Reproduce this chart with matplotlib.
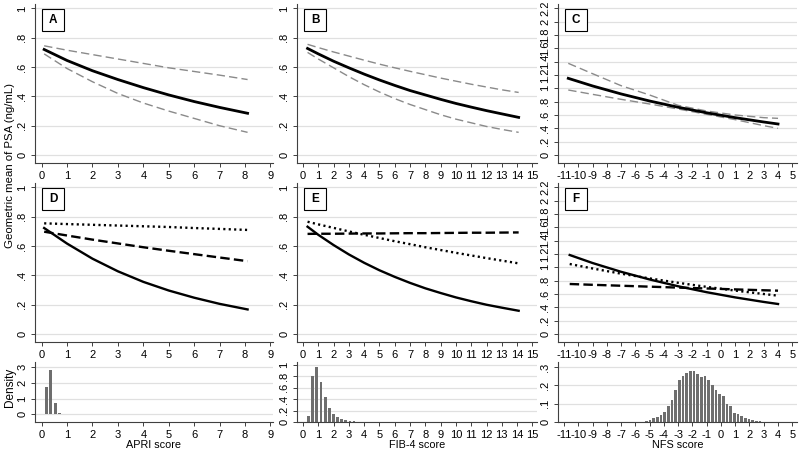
import matplotlib.pyplot as plt
from matplotlib.patches import Rectangle

plt.rcParams['font.family'] = ['Liberation Sans', 'DejaVu Sans']

# ---- APRI score (panels A, D) ----
apri_x = [0.1, 1, 2, 3, 4, 5, 6, 7, 8.1]
apri_fit = [0.72, 0.645, 0.575, 0.515, 0.46, 0.41, 0.365, 0.325, 0.285]
apri_hi = [0.745, 0.715, 0.685, 0.655, 0.625, 0.595, 0.57, 0.545, 0.515]
apri_lo = [0.69, 0.59, 0.50, 0.42, 0.355, 0.30, 0.25, 0.20, 0.155]
apri_solid = [0.723, 0.617, 0.514, 0.428, 0.356, 0.297, 0.248, 0.206, 0.168]
apri_dash = [0.698, 0.672, 0.644, 0.618, 0.592, 0.568, 0.545, 0.522, 0.497]
apri_dot = [0.755, 0.75, 0.745, 0.74, 0.735, 0.73, 0.723, 0.717, 0.71]
apri_bins = [0.18, 0.36, 0.54, 0.72, 0.90]
apri_dens = [1.74, 2.78, 0.72, 0.11, 0.04]

# ---- FIB-4 score (panels B, E) ----
fib_x = [0.3, 1, 2, 3, 4, 5, 6, 7, 8, 9, 10, 11, 12, 13, 14.1]
fib_fit = [0.727, 0.69, 0.64, 0.595, 0.552, 0.512, 0.475, 0.44, 0.41, 0.38, 0.352, 0.327, 0.303, 0.281, 0.257]
fib_hi = [0.755, 0.733, 0.703, 0.675, 0.647, 0.62, 0.595, 0.571, 0.548, 0.525, 0.504, 0.483, 0.464, 0.445, 0.427]
fib_lo = [0.70, 0.655, 0.595, 0.535, 0.48, 0.43, 0.385, 0.345, 0.31, 0.275, 0.245, 0.22, 0.195, 0.175, 0.155]
fib_solid = [0.732, 0.677, 0.607, 0.543, 0.486, 0.435, 0.39, 0.349, 0.312, 0.28, 0.25, 0.224, 0.20, 0.18, 0.159]
fib_dash = [0.683, 0.684, 0.684, 0.685, 0.686, 0.686, 0.687, 0.688, 0.688, 0.689, 0.69, 0.691, 0.691, 0.692, 0.693]
fib_dot = [0.766, 0.748, 0.724, 0.70, 0.677, 0.655, 0.633, 0.613, 0.592, 0.573, 0.554, 0.536, 0.518, 0.501, 0.482]
fib_bins = [0.37, 0.64, 0.91, 1.18, 1.45, 1.72, 1.99, 2.26, 2.53, 2.80, 3.07, 3.34, 3.61, 3.88, 4.15, 4.42, 4.69, 4.96]
fib_dens = [0.10, 0.81, 0.96, 0.70, 0.445, 0.24, 0.145, 0.09, 0.05, 0.03, 0.02, 0.012, 0.008, 0.006, 0.005, 0.004, 0.003, 0.002]

# ---- NFS score (panels C, F) ----
nfs_x = [-10.7, -9, -7, -5, -3, -1, 1, 3, 4]
nfs_fit = [1.15, 1.036, 0.916, 0.81, 0.716, 0.633, 0.56, 0.495, 0.465]
nfs_hi = [1.375, 1.22, 1.04, 0.90, 0.745, 0.66, 0.60, 0.56, 0.55]
nfs_lo = [0.975, 0.91, 0.835, 0.765, 0.69, 0.61, 0.53, 0.44, 0.40]
nfs_x2 = [-10.6, -9, -7, -5, -3, -1, 1, 3, 4]
nfs_solid = [1.185, 1.065, 0.933, 0.818, 0.716, 0.627, 0.549, 0.481, 0.45]
nfs_dash = [0.75, 0.738, 0.724, 0.71, 0.696, 0.683, 0.669, 0.656, 0.65]
nfs_dot = [1.05, 0.983, 0.905, 0.834, 0.768, 0.707, 0.651, 0.60, 0.575]
nfs_bins = [-5.23, -4.97, -4.72, -4.46, -4.20, -3.95, -3.69, -3.43, -3.17, -2.92, -2.66,
            -2.40, -2.15, -1.89, -1.63, -1.38, -1.12, -0.86, -0.60, -0.35, -0.09, 0.17,
            0.42, 0.68, 0.94, 1.20, 1.45, 1.71, 1.97, 2.22, 2.48, 2.74, 2.99]
nfs_dens = [0.008, 0.01, 0.02, 0.03, 0.04, 0.053, 0.085, 0.12, 0.175, 0.23, 0.253,
            0.27, 0.278, 0.278, 0.265, 0.247, 0.25, 0.23, 0.20, 0.175, 0.155, 0.14,
            0.10, 0.085, 0.047, 0.042, 0.033, 0.024, 0.016, 0.01, 0.007, 0.004, 0.002]

W, H = 800, 449
fig = plt.figure(figsize=(W / 100, H / 100), dpi=100)


def panel(left, top, right, bottom):
    return fig.add_axes([left / W, 1 - bottom / H, (right - left) / W, (bottom - top) / H])


def stata(v):
    s = '%g' % round(v, 2)
    if s.startswith('0.'):
        s = s[1:]
    return s


def style(ax, xticks, yticks, xlim, ylim):
    ax.set_xlim(*xlim)
    ax.set_ylim(*ylim)
    ax.set_xticks(xticks)
    ax.set_xticklabels([stata(v) for v in xticks])
    ax.set_yticks(yticks)
    ax.set_yticklabels([stata(v) for v in yticks])
    for s in ['top', 'right']:
        ax.spines[s].set_visible(False)
    for s in ['left', 'bottom']:
        ax.spines[s].set_color('#404040')
        ax.spines[s].set_linewidth(0.8)
    ax.tick_params(length=3, width=0.7, color='#404040', labelsize=8, pad=2.5)
    ax.tick_params(axis='y', labelrotation=90)
    for lab in ax.get_yticklabels():
        lab.set_va('center')
    ax.yaxis.grid(True, color='#e0e0e0', lw=0.9)
    ax.set_axisbelow(True)


def letter(ax, txt, wpx, hpx):
    x0, y0, bw, bh = 7 / wpx, 1 - 27 / hpx, 22 / wpx, 22 / hpx
    ax.add_patch(Rectangle((x0, y0), bw, bh, transform=ax.transAxes, fc='white',
                           ec='black', lw=0.8, zorder=5))
    ax.text(x0 + bw / 2, y0 + bh / 2, txt, transform=ax.transAxes, ha='center',
            va='center', fontsize=8.5, fontweight='bold', zorder=6)


cols = [(35, 273), (297, 537), (558, 797)]
rows = [(4, 163), (183, 342), (362, 422)]

xt_apri = list(range(0, 10))
xt_fib = list(range(0, 16))
xt_nfs = list(range(-11, 6))
yt_main = [0, 0.2, 0.4, 0.6, 0.8, 1]
yt_nfs = [0, 0.2, 0.4, 0.6, 0.8, 1, 1.2, 1.4, 1.6, 1.8, 2, 2.2]

xlims = [(-0.26, 9.1), (-0.39, 15.3), (-11.42, 5.33)]
xticks = [xt_apri, xt_fib, xt_nfs]

top_data = [(apri_x, apri_fit, apri_hi, apri_lo), (fib_x, fib_fit, fib_hi, fib_lo),
            (nfs_x, nfs_fit, nfs_hi, nfs_lo)]
mid_data = [(apri_x, apri_solid, apri_dash, apri_dot), (fib_x, fib_solid, fib_dash, fib_dot),
            (nfs_x2, nfs_solid, nfs_dash, nfs_dot)]
hist_data = [(apri_bins, apri_dens, 0.18), (fib_bins, fib_dens, 0.27), (nfs_bins, nfs_dens, 0.257)]

for i, (l, r) in enumerate(cols):
    yt = yt_nfs if i == 2 else yt_main
    ylim = (-0.12, 2.265) if i == 2 else (-0.054, 1.03)

    # top row: fit with confidence band
    ax = panel(l, rows[0][0], r, rows[0][1])
    x, fit, hi, lo = top_data[i]
    ax.plot(x, hi, color='#8a8a8a', lw=1.0, dashes=(6, 3))
    ax.plot(x, lo, color='#8a8a8a', lw=1.0, dashes=(6, 3))
    ax.plot(x, fit, color='black', lw=2.0)
    style(ax, xticks[i], yt, xlims[i], ylim)
    letter(ax, 'ABC'[i], r - l, rows[0][1] - rows[0][0])

    # middle row: three models
    ax = panel(l, rows[1][0], r, rows[1][1])
    x, sol, das, dot = mid_data[i]
    ax.plot(x, dot, color='black', lw=1.7, dashes=(0.9, 1.4))
    ax.plot(x, das, color='black', lw=1.7, dashes=(4, 1.8))
    ax.plot(x, sol, color='black', lw=1.7)
    style(ax, xticks[i], yt, xlims[i], ylim)
    letter(ax, 'DEF'[i], r - l, rows[1][1] - rows[1][0])

    # bottom row: density histogram
    ax = panel(l, rows[2][0], r, rows[2][1])
    bins, dens, step = hist_data[i]
    ax.bar(bins, dens, width=step * 0.68, color='#6e6e6e', edgecolor='none')
    if i == 0:
        style(ax, xticks[i], [0, 1, 2, 3], xlims[i], (-0.48, 3.3))
    elif i == 1:
        style(ax, xticks[i], [0, 0.2, 0.4, 0.6, 0.8, 1], xlims[i], (0, 1.05))
    else:
        style(ax, xticks[i], [0, 0.1, 0.2, 0.3], xlims[i], (0, 0.328))
    ax.set_xlabel(['APRI score', 'FIB-4 score', 'NFS score'][i], fontsize=7.8, labelpad=0)

fig.text(10 / W, 1 - 165 / H, 'Geometric mean of PSA (ng/mL)', rotation=90,
         ha='center', va='center', fontsize=8.2)
fig.text(10 / W, 1 - 387 / H, 'Density', rotation=90, ha='center', va='center', fontsize=8.5)

fig.savefig('out.png', dpi=100, facecolor='white')
